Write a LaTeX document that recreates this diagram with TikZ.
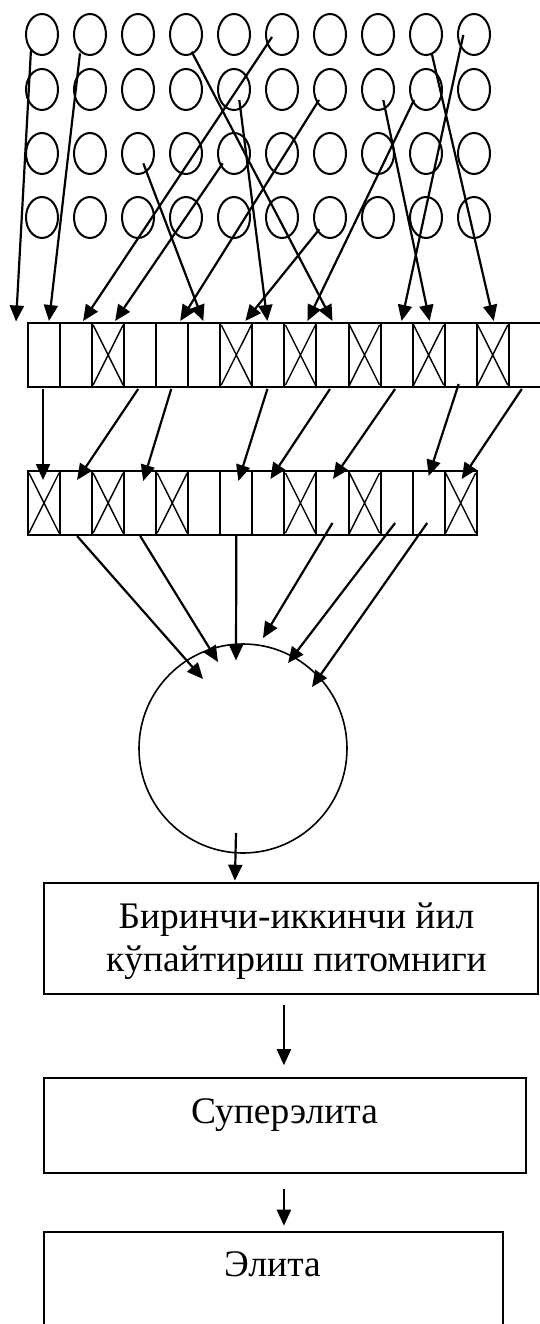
\documentclass[tikz,border=0pt]{standalone}
\usepackage{fontspec}
\setmainfont{Liberation Serif}
\usetikzlibrary{arrows.meta,shapes.geometric}
\begin{document}
\begin{tikzpicture}[x=1pt,y=-1pt,
  seed/.style={draw, ellipse, line width=2pt, minimum width=32pt, minimum height=41pt, inner sep=0pt},
  cell/.style={draw, rectangle, line width=2pt, minimum width=32.05pt, minimum height=64pt, inner sep=0pt},
  xline/.style={line width=1.4pt},
  arr/.style={line width=2.2pt, -{Triangle[length=16pt,width=14pt]}},
  box/.style={draw, rectangle, line width=2.2pt, inner sep=0pt},
  lbl/.style={font=\fontsize{37.5}{43.4}\selectfont, inner sep=0pt, anchor=base, align=center}]

\path[fill=white] (0,0) rectangle (539,1324);
\useasboundingbox (0,0) rectangle (539,1324);

% grid of seed plants: 4 rows x 10 columns
\foreach \r/\yy in {1/34.5,2/89.5,3/153.5,4/217.5}
  \foreach \c in {1,...,10}
    \node[seed] (c\r-\c) at ({42+48*(\c-1)},\yy) {};

% first row of plots (16 cells) and second row (14 cells)
\foreach \k in {0,...,15}
  \node[cell] (t\k) at ({44.03+32.05*\k},355) {};
\foreach \k in {0,...,13}
  \node[cell] (s\k) at ({44.03+32.05*\k},503) {};

% rejected plots are crossed out
\foreach \k in {2,6,8,10,12,14}
  \draw[xline] ([shift={(2,3)}]t\k.north west) -- ([shift={(-2,-3)}]t\k.south east)
               ([shift={(-2,3)}]t\k.north east) -- ([shift={(2,-3)}]t\k.south west);
\foreach \k in {0,2,4,8,10,13}
  \draw[xline] ([shift={(2,3)}]s\k.north west) -- ([shift={(-2,-3)}]s\k.south east)
               ([shift={(-2,3)}]s\k.north east) -- ([shift={(2,-3)}]s\k.south west);

% selected plants go to the first row of plots
\draw[arr] ([shift={(-11,14.8)}]c1-1.center) -- ([shift={(-28,-0.5)}]t0.north);
\draw[arr] ([shift={(-10,18.8)}]c1-2.center) -- ([shift={(5,-1)}]t0.north);
\draw[arr] ([shift={(-10,2.5)}]c1-6.center) -- ([shift={(7,-1)}]t1.north);
\draw[arr] ([shift={(-11.3,9.8)}]c3-5.center) -- ([shift={(7,-1)}]t2.north);
\draw[arr] ([shift={(5.7,17.2)}]c1-4.center) -- ([shift={(0,-1)}]t9.north);
\draw[arr] ([shift={(5.3,9.8)}]c3-3.center) -- ([shift={(-1,-1)}]t5.north);
\draw[arr] ([shift={(5.3,10.5)}]c2-5.center) -- ([shift={(-1,-1)}]t7.north);
\draw[arr] ([shift={(-11,10.5)}]c2-7.center) -- ([shift={(8,-1)}]t4.north);
\draw[arr] ([shift={(-10.7,11.8)}]c4-7.center) -- ([shift={(9,-1)}]t6.north);
\draw[arr] ([shift={(-12,10.5)}]c2-9.center) -- ([shift={(7,-1)}]t8.north);
\draw[arr] ([shift={(5.3,10.5)}]c2-8.center) -- ([shift={(1,-1)}]t12.north);
\draw[arr] ([shift={(-10.7,0.5)}]c1-10.center) -- ([shift={(5,-1)}]t11.north);
\draw[arr] ([shift={(5.7,18.8)}]c1-9.center) -- ([shift={(1,-1)}]t14.north);

% first row to second row
\draw[arr] ([shift={(-1,1)}]t0.south) -- ([shift={(-1,10)}]s0.north);
\draw[arr] ([shift={(-2,1)}]t3.south) -- ([shift={(1,10)}]s1.north);
\draw[arr] ([shift={(-1,1)}]t4.south) -- ([shift={(3,11)}]s3.north);
\draw[arr] ([shift={(-1,1)}]t7.south) -- ([shift={(2,11)}]s6.north);
\draw[arr] ([shift={(-2.5,1)}]t9.south) -- ([shift={(2,9)}]s7.north);
\draw[arr] ([shift={(-1.5,1)}]t11.south) -- ([shift={(0.5,9)}]s9.north);
\draw[arr] ([shift={(-2,-4)}]t13.south) -- ([shift={(0,6)}]s12.north);
\draw[arr] ([shift={(-3,1)}]t15.south) -- ([shift={(1,9)}]s13.north);

% pooled stock
\node[draw, ellipse, line width=1.6pt, minimum width=208pt, minimum height=209pt, inner sep=0pt] (bc) at (243,748.5) {};

\draw[arr] ([shift={(1,0)}]s1.south) -- ([shift={(-40,-69.5)}]bc.center);
\draw[arr] (s3.south) -- ([shift={(-25,-86.5)}]bc.center);
\draw[arr] (s6.south) -- ([shift={(-7,-88)}]bc.center);
\draw[arr] ([shift={(0,-13)}]s9.south) -- ([shift={(20,-110.5)}]bc.center);
\draw[arr] ([shift={(-1.5,-13)}]s11.south) -- ([shift={(45,-85.5)}]bc.center);
\draw[arr] ([shift={(-1.5,-13)}]s12.south) -- ([shift={(69,-61.5)}]bc.center);

% nursery and seed classes
\node[box, minimum width=494pt, minimum height=110.7pt] (b1) at (291,938.65) {};
\node[box, minimum width=482pt, minimum height=95pt] (b2) at (285,1125.8) {};
\node[box, minimum width=459pt, minimum height=112.7pt] (b3) at (273.5,1288.65) {};

\node[lbl] (l1) at (296.5,971.7) {Биринчи-иккинчи йил\\кўпайтириш питомниги};
\node[lbl] (l2) at (284.5,1123.3) {Суперэлита};
\node[lbl] (l3) at (272.5,1276.7) {Элита};

\draw[arr] ([shift={(-7,84.5)}]bc.center) -- ([shift={(192,-1.5)}]b1.north west);
\draw[arr] ([shift={(241,10)}]b1.south west) -- ([shift={(241,-12)}]b2.north west);
\draw[arr] ([shift={(241,15)}]b2.south west) -- ([shift={(241,-5.5)}]b3.north west);
\end{tikzpicture}
\end{document}
